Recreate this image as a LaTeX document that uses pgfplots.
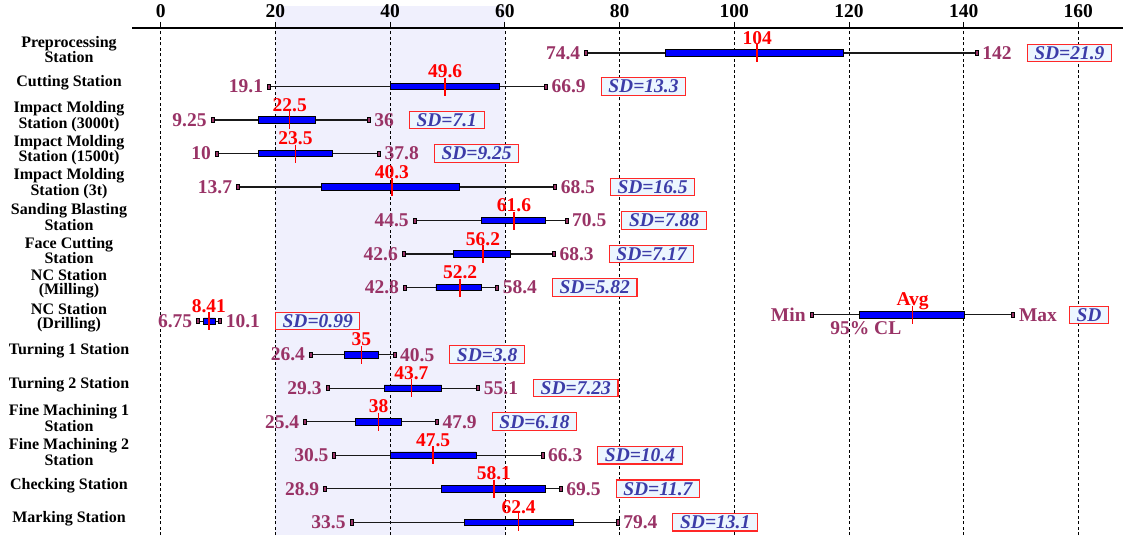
\documentclass[border=0pt]{standalone}
\usepackage{pgfplots}
\pgfplotsset{compat=1.18}
\usepackage{pgfplotstable}
\usepackage{fontspec}
\setmainfont{Liberation Serif}
\pgfkeys{/pgf/number format/assume math mode=true}
\definecolor{labmag}{RGB}{153,51,102}
\definecolor{sdblue}{RGB}{60,60,168}
\definecolor{sdfill}{RGB}{236,246,255}
\definecolor{sdred}{RGB}{255,40,40}
\definecolor{band}{RGB}{240,240,253}
\newcommand\vf{\fontsize{19.5}{20}\selectfont\bfseries}
\newcommand\stf{\fontsize{16}{14}\selectfont\bfseries}
\newcommand\sdbox[1]{{\setlength\fboxsep{1.6pt}\setlength\fboxrule{1.1pt}\fcolorbox{sdred}{sdfill}{\hspace{5pt}\textcolor{sdblue}{\itshape #1}\hspace{5pt}}}}
\pgfdeclareplotmark{capL}{%
  \pgfpathrectangle{\pgfpoint{-2.9pt}{-2.6pt}}{\pgfpoint{3pt}{5.2pt}}%
  \pgfusepathqfillstroke}
\pgfdeclareplotmark{capR}{%
  \pgfpathrectangle{\pgfpoint{-0.1pt}{-2.6pt}}{\pgfpoint{3pt}{5.2pt}}%
  \pgfusepathqfillstroke}

\pgfplotstableread{
row min lo hi max avg sd
1 74.4 88 119 142 104 21.9
2 19.1 40 59 66.9 49.6 13.3
3 9.25 17 27 36 22.5 7.1
4 10 17 30 37.8 23.5 9.25
5 13.7 28 52 68.5 40.3 16.5
6 44.5 56 67 70.5 61.6 7.88
7 42.6 51 61 68.3 56.2 7.17
8 42.8 48 56 58.4 52.2 5.82
9 6.75 7.5 9.5 10.1 8.41 0.99
10 26.4 32 38 40.5 35 3.8
11 29.3 39 49 55.1 43.7 7.23
12 25.4 34 42 47.9 38 6.18
13 30.5 40 55 66.3 47.5 10.4
14 28.9 49 67 69.5 58.1 11.7
15 33.5 53 72 79.4 62.4 13.1
8.81 113.7 121.9 140.1 148.4 131.1 0
}\data

\pgfplotsset{
  base/.style={
    scale only axis, width=992.2pt, height=507pt,
    xmin=-5, xmax=168, ymin=-15.38, ymax=-0.254,
    clip=false, at={(132pt,-28pt)}, anchor=north west,
  },
  lab/.style={only marks, mark=*, mark size=0pt, mark options={draw=none, fill=none}},
}

\begin{document}
\begin{tikzpicture}
% axis 1: frame, band, grid, whiskers
\begin{axis}[base,
  set layers,
  axis x line*=top, axis y line*=left,
  y axis line style={draw=none},
  x axis line style={line width=2.2pt, -},
  xtick={0,20,...,160},
  xtick align=outside, major tick length=6pt,
  xtick style={black, line width=0.8pt},
  xticklabel style={font=\vf, inner sep=0pt, yshift=4pt},
  xmajorgrids,
  major grid style={black, line width=0.6pt, dash pattern=on 3pt off 2.5pt},
  ytick={-15,-14,...,-1},
  yticklabels={{Marking Station},{Checking Station},{Fine Machining 2\\Station},{Fine Machining 1\\Station},{Turning 2 Station},{Turning 1 Station},{NC Station\\(Drilling)},{NC Station\\(Milling)},{Face Cutting\\Station},{Sanding Blasting\\Station},{Impact Molding\\Station (3t)},{Impact Molding\\Station (1500t)},{Impact Molding\\Station (3000t)},{Cutting Station},{Preprocessing\\Station}},
  ytick style={draw=none},
  yticklabel style={font=\stf, align=center, anchor=center, xshift=-63pt, yshift=3.5pt},
]
\addplot[on layer=axis background, fill=band, draw=none] coordinates {(20,0.41) (60,0.41) (60,-15.38) (20,-15.38)} -- cycle;
\addplot[only marks, mark=none, error bars/.cd, x dir=both, x explicit,
  error mark=none, error bar style={black!90, line width=1.3pt}]
  table[x=avg, y expr=-\thisrow{row}, x error plus expr=\thisrow{max}-\thisrow{avg}, x error minus expr=\thisrow{avg}-\thisrow{min}] {\data};
\addplot[only marks, mark=capL, mark options={draw=black, fill=labmag, line width=0.6pt}]
  table[x=min, y expr=-\thisrow{row}] {\data};
\addplot[only marks, mark=capR, mark options={draw=black, fill=labmag, line width=0.6pt}]
  table[x=max, y expr=-\thisrow{row}] {\data};
\end{axis}
% axis 2: CL bars
\begin{axis}[base, hide axis, xbar stacked, bar width=6.5pt]
\addplot[draw=none, fill=none] table[x=lo, y expr=-\thisrow{row}] {\data};
\addplot[draw=black, fill=blue, line width=0.8pt] table[x expr=\thisrow{hi}-\thisrow{lo}, y expr=-\thisrow{row}] {\data};
\end{axis}
% axis 3: avg ticks and labels
\begin{axis}[base, hide axis]
\addplot[only marks, mark=|, mark size=9pt, mark options={red, line width=1.4pt}]
  table[x=avg, y expr=-\thisrow{row}] {\data};
% min labels
\addplot[lab, skip coords between index={15}{16},
  point meta=explicit symbolic,
  nodes near coords={\pgfplotspointmeta},
  every node near coord/.append style={anchor=east, xshift=-7pt, inner sep=0pt, font=\vf, text=labmag}]
  table[x=min, y expr=-\thisrow{row}, meta=min] {\data};
% max labels + SD boxes
\addplot[lab, skip coords between index={15}{16},
  point meta=explicit symbolic,
  visualization depends on={\thisrow{sd}\as\sdval},
  nodes near coords={\textcolor{labmag}{\pgfplotspointmeta}\hspace{15pt}\sdbox{SD=\pgfmathprintnumber[fixed,precision=2]{\sdval}}},
  every node near coord/.append style={anchor=west, xshift=7pt, inner sep=0pt, font=\vf}]
  table[x=max, y expr=-\thisrow{row}, meta=max] {\data};
% avg labels
\addplot[lab, skip coords between index={15}{16},
  point meta=explicit symbolic,
  nodes near coords={\pgfplotspointmeta},
  every node near coord/.append style={anchor=base, yshift=9pt, inner sep=0pt, font=\vf, text=red}]
  table[x=avg, y expr=-\thisrow{row}, meta=avg] {\data};
% legend labels
\addplot[lab, skip coords between index={0}{15},
  nodes near coords={Min},
  every node near coord/.append style={anchor=east, xshift=-7pt, inner sep=0pt, font=\vf, text=labmag}]
  table[x=min, y expr=-\thisrow{row}] {\data};
\addplot[lab, skip coords between index={0}{15},
  nodes near coords={\textcolor{labmag}{Max}\hspace{12pt}\sdbox{SD}},
  every node near coord/.append style={anchor=west, xshift=7pt, inner sep=0pt, font=\vf}]
  table[x=max, y expr=-\thisrow{row}] {\data};
\addplot[lab, skip coords between index={0}{15},
  nodes near coords={Avg},
  every node near coord/.append style={anchor=base, yshift=9pt, inner sep=0pt, font=\vf, text=red}]
  table[x=avg, y expr=-\thisrow{row}] {\data};
\addplot[lab, skip coords between index={0}{15},
  nodes near coords={95\% CL},
  every node near coord/.append style={anchor=north, xshift=6pt, yshift=-6.5pt, inner sep=0pt, font=\vf, text=labmag}]
  table[x=lo, y expr=-\thisrow{row}] {\data};
\end{axis}
\pgfresetboundingbox
\useasboundingbox (0,0) rectangle (1123pt,-535pt);
\end{tikzpicture}
\end{document}
